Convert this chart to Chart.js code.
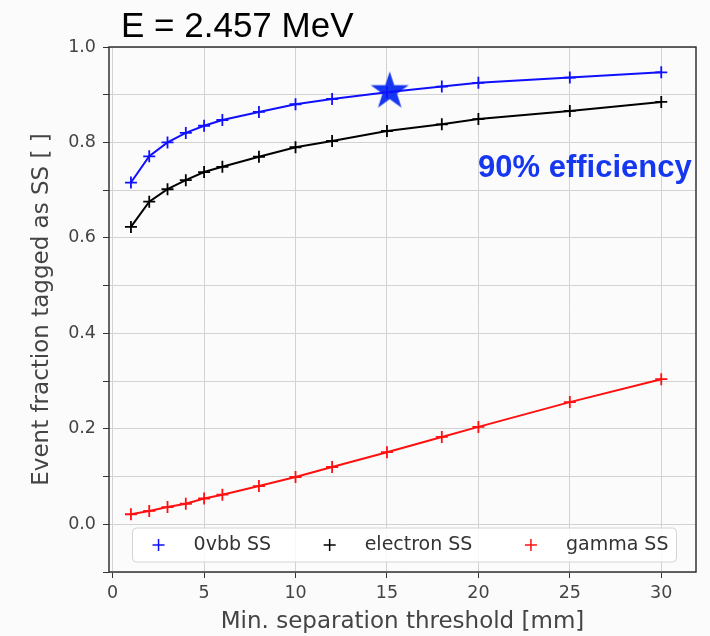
<!DOCTYPE html>
<html>
<head>
<meta charset="utf-8">
<script src="https://cdn.jsdelivr.net/npm/chart.js@4.4.0/dist/chart.umd.min.js"></script>
<style>
  html, body { margin: 0; padding: 0; background: #fbfbfb; }
  #wrap { width: 710px; height: 636px; }
</style>
</head>
<body>
<div id="wrap"><canvas id="ss-chart" width="710" height="636"></canvas></div>
<script>
// data
var sepMm = [1, 2, 3, 4, 5, 6, 8, 10, 12, 15, 18, 20, 25, 30];
var ovbbSS = [0.716, 0.771, 0.800, 0.820, 0.835, 0.847, 0.864, 0.880, 0.891, 0.905, 0.917, 0.925, 0.936, 0.947];
var electronSS = [0.623, 0.676, 0.702, 0.721, 0.738, 0.749, 0.770, 0.790, 0.803, 0.824, 0.838, 0.849, 0.866, 0.885];
var gammaSS = [0.021, 0.028, 0.036, 0.043, 0.054, 0.062, 0.080, 0.099, 0.120, 0.151, 0.183, 0.204, 0.256, 0.304];
var seriesNames = ["0vbb SS", "electron SS", "gamma SS"];
var seriesColors = ["#1010ff", "#000000", "#ff1010"];
var starPoint = [15.15, 0.907];
var titleText = "E = 2.457 MeV";
var noteText = "90% efficiency";
var noteColor = "#1537f0";

function toPoints(xs, ys) {
    var pts = [];
    for (var i = 0; i < xs.length; i++) {
        pts.push({ x: xs[i], y: ys[i] });
    }
    return pts;
}

// filled 5 point star used as point image
function makeStar(r, color) {
    var c = document.createElement("canvas");
    var size = Math.ceil(r * 2 + 4);
    c.width = size;
    c.height = size;
    var g = c.getContext("2d");
    var cx = size / 2, cy = size / 2;
    g.beginPath();
    for (var k = 0; k < 10; k++) {
        var rr = (k % 2 == 0) ? r : r * 0.382;
        var a = -Math.PI / 2 + k * Math.PI / 5;
        var px = cx + rr * Math.cos(a), py = cy + rr * Math.sin(a);
        if (k == 0) g.moveTo(px, py); else g.lineTo(px, py);
    }
    g.closePath();
    g.fillStyle = color;
    g.fill();
    return c;
}

function lineSet(i, ys) {
    return {
        label: seriesNames[i],
        data: toPoints(sepMm, ys),
        borderColor: seriesColors[i],
        backgroundColor: seriesColors[i],
        borderWidth: 2,
        pointStyle: "cross",
        pointRadius: 6,
        pointBorderWidth: 1.8,
        tension: 0
    };
}

var tickFont = { family: "DejaVu Sans", size: 17.5 };
var labelFont = { family: "DejaVu Sans", size: 23 };
var tickColor = "#444444";

// frame, title, note and the legend inside the axes
var extrasPlugin = {
    id: "extras",
    beforeDraw: function (chart) {
        var ctx = chart.ctx;
        ctx.save();
        ctx.fillStyle = "#fbfbfb";
        ctx.fillRect(0, 0, chart.width, chart.height);
        ctx.restore();
    },
    afterDatasetsDraw: function (chart) {
        var ctx = chart.ctx;
        var area = chart.chartArea;
        ctx.save();

        ctx.strokeStyle = "#333333";
        ctx.lineWidth = 1.5;
        ctx.strokeRect(area.left, area.top, area.right - area.left, area.bottom - area.top);

        ctx.fillStyle = "#000000";
        ctx.font = "35px 'Liberation Sans'";
        ctx.textBaseline = "alphabetic";
        ctx.textAlign = "left";
        ctx.fillText(titleText, 121, 37);

        ctx.fillStyle = noteColor;
        ctx.font = "bold 31px 'Liberation Sans'";
        ctx.fillText(noteText, 478, 177);

        // legend, 3 columns at lower center
        ctx.font = "19px 'DejaVu Sans'";
        var gap = 58.5;
        var widths = [];
        var total = 26 + 8;
        for (var i = 0; i < seriesNames.length; i++) {
            widths.push(ctx.measureText(seriesNames[i]).width);
            total += 35 + widths[i];
            if (i > 0) total += gap;
        }
        var cxm = (area.left + area.right) / 2;
        var bx = cxm - total / 2 + 2;
        var by = area.bottom - 44;
        var bh = 34;
        ctx.beginPath();
        ctx.roundRect(bx, by, total, bh, 4);
        ctx.fillStyle = "rgba(255,255,255,0.85)";
        ctx.fill();
        ctx.strokeStyle = "#d4d4d4";
        ctx.lineWidth = 1;
        ctx.stroke();

        var mx = bx + 26;
        var my = by + bh / 2;
        for (var j = 0; j < seriesNames.length; j++) {
            ctx.strokeStyle = seriesColors[j];
            ctx.lineWidth = 1.5;
            ctx.beginPath();
            ctx.moveTo(mx - 6, my);
            ctx.lineTo(mx + 6, my);
            ctx.moveTo(mx, my - 6);
            ctx.lineTo(mx, my + 6);
            ctx.stroke();
            ctx.fillStyle = "#333333";
            ctx.textBaseline = "middle";
            ctx.fillText(seriesNames[j], mx + 35, my);
            mx = mx + 35 + widths[j] + gap;
        }
        ctx.restore();
    }
};

var datasets = [lineSet(0, ovbbSS), lineSet(1, electronSS), lineSet(2, gammaSS)];
datasets.push({
    label: "star",
    data: [{ x: starPoint[0], y: starPoint[1] }],
    pointStyle: makeStar(20, noteColor),
    pointRadius: 20,
    showLine: false
});

new Chart(document.getElementById("ss-chart"), {
    type: "line",
    data: { datasets: datasets },
    options: {
        responsive: false,
        animation: false,
        // the big star would otherwise push the right edge in
        layout: { autoPadding: false, padding: { top: 47, right: 14, left: 0, bottom: 0 } },
        plugins: {
            legend: { display: false },
            tooltip: { enabled: false }
        },
        scales: {
            x: {
                type: "linear",
                min: -0.2,
                max: 31.9,
                afterFit: function (scale) {
                    scale.height = 64;
                    scale.paddingLeft = 0;
                    scale.paddingRight = 0;
                },
                ticks: {
                    stepSize: 5,
                    includeBounds: false,
                    font: tickFont,
                    color: tickColor,
                    padding: 5,
                    maxRotation: 0
                },
                grid: { color: "#d2d2d2", tickColor: "#333333", tickLength: 6, lineWidth: 1 },
                border: { display: false },
                title: {
                    display: true,
                    text: "Min. separation threshold [mm]",
                    font: labelFont,
                    color: tickColor,
                    padding: { top: 0, bottom: 0 }
                }
            },
            y: {
                min: -0.1,
                max: 1.0,
                afterFit: function (scale) {
                    scale.width = 109;
                    scale.paddingTop = 0;
                    scale.paddingBottom = 0;
                },
                ticks: {
                    stepSize: 0.1,
                    font: tickFont,
                    color: tickColor,
                    padding: 7,
                    callback: function (v) {
                        var n = Math.round(v * 10);
                        if (Math.abs(n) % 2 != 0) return "";
                        return (n / 10).toFixed(1);
                    }
                },
                grid: { color: "#d2d2d2", tickColor: "#333333", tickLength: 6, lineWidth: 1 },
                border: { display: false },
                title: {
                    display: true,
                    text: "Event fraction tagged as SS [ ]",
                    font: labelFont,
                    color: tickColor,
                    padding: { top: 28, bottom: 0 }
                }
            }
        }
    },
    plugins: [extrasPlugin]
});
</script>
</body>
</html>
